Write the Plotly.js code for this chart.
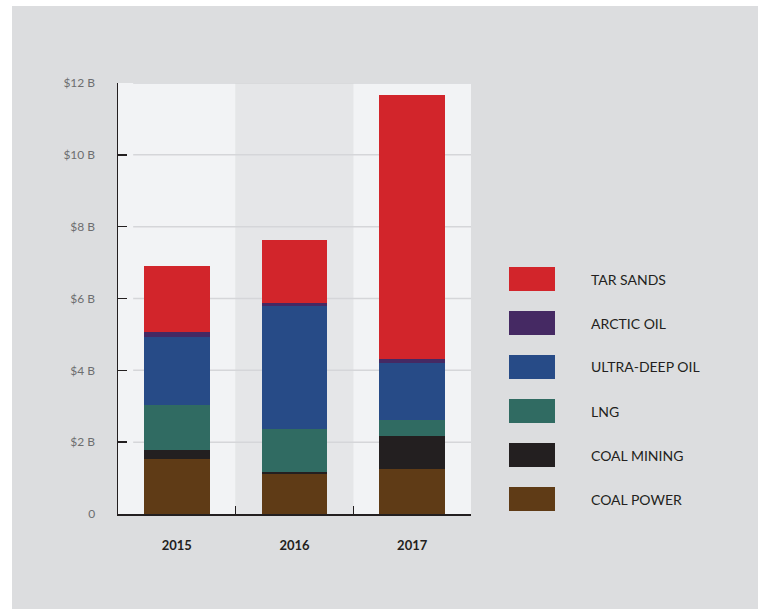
<!DOCTYPE html>
<html>
<head>
<meta charset="utf-8">
<script src="https://cdn.plot.ly/plotly-3.0.1.min.js"></script>
<style>
  html, body { margin: 0; padding: 0; background: #ffffff; }
  #chart { position: absolute; left: 12px; top: 6px; width: 746px; height: 603px; }
</style>
</head>
<body>
<div id="chart"></div>
<script>
// ---- data ----
var years = ['2015', '2016', '2017'];
var seriesNames = ['COAL POWER', 'COAL MINING', 'LNG', 'ULTRA-DEEP OIL', 'ARCTIC OIL', 'TAR SANDS'];
var coalPower   = [1.53, 1.12, 1.26];
var coalMining  = [0.25, 0.04, 0.92];
var lng         = [1.26, 1.22, 0.44];
var ultraDeep   = [1.90, 3.40, 1.59];
var arcticOil   = [0.12, 0.10, 0.11];
var tarSands    = [1.84, 1.75, 7.34];
var seriesValues = [coalPower, coalMining, lng, ultraDeep, arcticOil, tarSands];
var seriesColors = ['#5f3b16', '#231f20', '#306b62', '#274b87', '#452963', '#d2252b'];
var yTickVals = [0, 2, 4, 6, 8, 10, 12];
var yTickText = ['0', '$2 B', '$4 B', '$6 B', '$8 B', '$10 B', '$12 B'];

var FONT = 'Lato, "Open Sans", sans-serif';

var traces = seriesNames.map(function (name, i) {
  return {
    type: 'bar', name: name, x: years, y: seriesValues[i],
    marker: { color: seriesColors[i], line: { width: 0 } },
    hoverinfo: 'x+y+name'
  };
});

// plot geometry in page pixels (for legend placement in paper coords)
var plotL = 118, plotR = 471, plotT = 83, plotB = 514;
function px(x) { return (x - plotL) / (plotR - plotL); }
function py(y) { return (plotB - y) / (plotB - plotT); }

var shapes = [];
// gray page background
shapes.push({ type: 'rect', xref: 'paper', yref: 'paper', layer: 'below',
  x0: px(0), x1: px(800), y0: py(0), y1: py(700),
  fillcolor: '#dcdddf', line: { width: 0 } });
// column bands
var bandColors = ['#f2f3f5', '#e5e6e8', '#f2f3f5'];
years.forEach(function (yr, i) {
  shapes.push({ type: 'rect', xref: 'x', yref: 'paper', layer: 'below',
    x0: i - 0.5, x1: i + 0.5, y0: 0, y1: 1,
    fillcolor: bandColors[i], line: { width: 0 } });
});
// gridlines (start slightly right of the axis)
yTickVals.forEach(function (v) {
  if (v === 0) return;
  shapes.push({ type: 'line', xref: 'paper', yref: 'y', layer: 'between',
    x0: 0.043, x1: 1, y0: v, y1: v,
    line: { color: '#d5d6d9', width: 1.5 } });
});

// custom legend
var annotations = [];
var legendOrder = seriesNames.slice().reverse();
var legendColors = seriesColors.slice().reverse();
legendOrder.forEach(function (name, i) {
  var yc = 279 + i * 44;
  shapes.push({ type: 'rect', xref: 'paper', yref: 'paper', layer: 'above',
    x0: px(509), x1: px(555), y0: py(yc + 12), y1: py(yc - 12),
    fillcolor: legendColors[i], line: { width: 0 } });
  annotations.push({ xref: 'paper', yref: 'paper', x: px(589), y: py(yc),
    xanchor: 'left', yanchor: 'middle', showarrow: false, text: name,
    font: { family: FONT, size: 14, color: '#231f20' } });
});

var layout = {
  width: 746, height: 603,
  margin: { l: plotL - 12, r: 758 - plotR, t: plotT - 6, b: 609 - plotB, pad: 0 },
  paper_bgcolor: '#ffffff',
  plot_bgcolor: 'rgba(0,0,0,0)',
  barmode: 'stack',
  bargap: 0.44,
  showlegend: false,
  xaxis: {
    type: 'category', range: [-0.5, 2.5],
    showgrid: false, zeroline: false,
    showline: true, linecolor: '#231f20', linewidth: 1.5,
    ticks: 'inside', tickson: 'boundaries', ticklen: 8, tickwidth: 1.5, tickcolor: '#231f20',
    tickfont: { family: FONT, size: 13, color: '#231f20', weight: 'bold' },
    ticklabelstandoff: 19,
    fixedrange: true
  },
  yaxis: {
    range: [0, 12],
    tickvals: yTickVals, ticktext: yTickText,
    showgrid: false, zeroline: false,
    showline: true, linecolor: '#231f20', linewidth: 1.5,
    ticks: 'inside', ticklen: 9, tickwidth: 1.5, tickcolor: '#231f20',
    tickfont: { family: FONT, size: 12, color: '#6d6e70' },
    ticklabelstandoff: 19,
    fixedrange: true
  },
  shapes: shapes,
  annotations: annotations
};

Plotly.newPlot('chart', traces, layout, { displayModeBar: false, staticPlot: true });
</script>
</body>
</html>
